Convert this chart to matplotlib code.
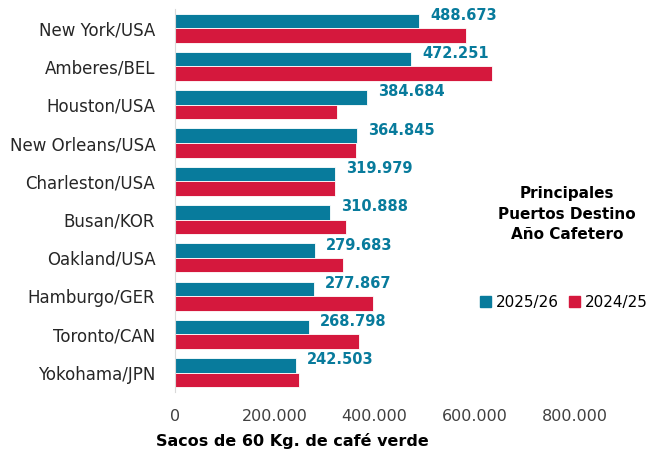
import matplotlib
matplotlib.use("Agg")
import matplotlib.pyplot as plt
import numpy as np
from matplotlib.patches import Patch

# Datos (sacos de 60 kg)
puertos = ["New York/USA", "Amberes/BEL", "Houston/USA", "New Orleans/USA",
           "Charleston/USA", "Busan/KOR", "Oakland/USA", "Hamburgo/GER",
           "Toronto/CAN", "Yokohama/JPN"]
anio_2025_26 = [488673, 472251, 384684, 364845, 319979, 310888, 279683, 277867, 268798, 242503]
anio_2024_25 = [582000, 634000, 324000, 362000, 320000, 342000, 336000, 396000, 368000, 248000]
ticks_x = [0, 200000, 400000, 600000, 800000]

teal = "#087B9C"
red = "#D5183D"

def fmt(v):
    return f"{v:,.0f}".replace(",", ".")

plt.rcParams['font.family'] = ['DejaVu Sans']

fig = plt.figure(figsize=(6.52, 4.51), dpi=100)
ax = fig.add_axes([0.268, 0.131, 0.690, 0.849])

y = np.arange(len(puertos))
h = 0.38
ax.barh(y - h / 2, anio_2025_26, height=h, color=teal, edgecolor="white", linewidth=0.6)
ax.barh(y + h / 2, anio_2024_25, height=h, color=red, edgecolor="white", linewidth=0.6)

# Etiquetas de valor
for yi, v in zip(y, anio_2025_26):
    ax.annotate(fmt(v), (v, yi - h / 2), xytext=(8, 4), textcoords="offset points",
                ha="left", va="center", fontsize=10.5, fontweight="bold", color=teal)

ax.set_yticks(y)
ax.set_yticklabels(puertos, fontsize=12, color="#262626")
ax.set_ylim(len(puertos) - 0.5, -0.5)
ax.set_xlim(0, 900000)
ax.set_xticks(ticks_x)
ax.set_xticklabels([fmt(t) for t in ticks_x], fontsize=11.5, color="#404040")
ax.tick_params(axis="both", length=0)
ax.tick_params(axis="y", pad=14)
ax.tick_params(axis="x", pad=12)

for s in ["top", "right", "bottom"]:
    ax.spines[s].set_visible(False)
ax.spines["left"].set_color("#D9D9D9")

# Título del eje x (desplazado a la izquierda como en el original)
fig.text(0.448, 0.022, "Sacos de 60 Kg. de café verde", ha="center", va="center",
         fontsize=11.5, fontweight="bold")

# Título interno
fig.text(0.870, 0.525, "Principales\nPuertos Destino\nAño Cafetero", ha="center", va="center",
         fontsize=11, fontweight="bold", linespacing=1.45)

handles = [Patch(color=teal, label="2025/26"), Patch(color=red, label="2024/25")]
fig.legend(handles=handles, loc="center", bbox_to_anchor=(0.865, 0.330), ncol=2, frameon=False,
           fontsize=11, handlelength=0.7, handleheight=0.7, handletextpad=0.3, columnspacing=0.7,
           borderpad=0.1, borderaxespad=0.1)

fig.savefig("out.png", dpi=100)
